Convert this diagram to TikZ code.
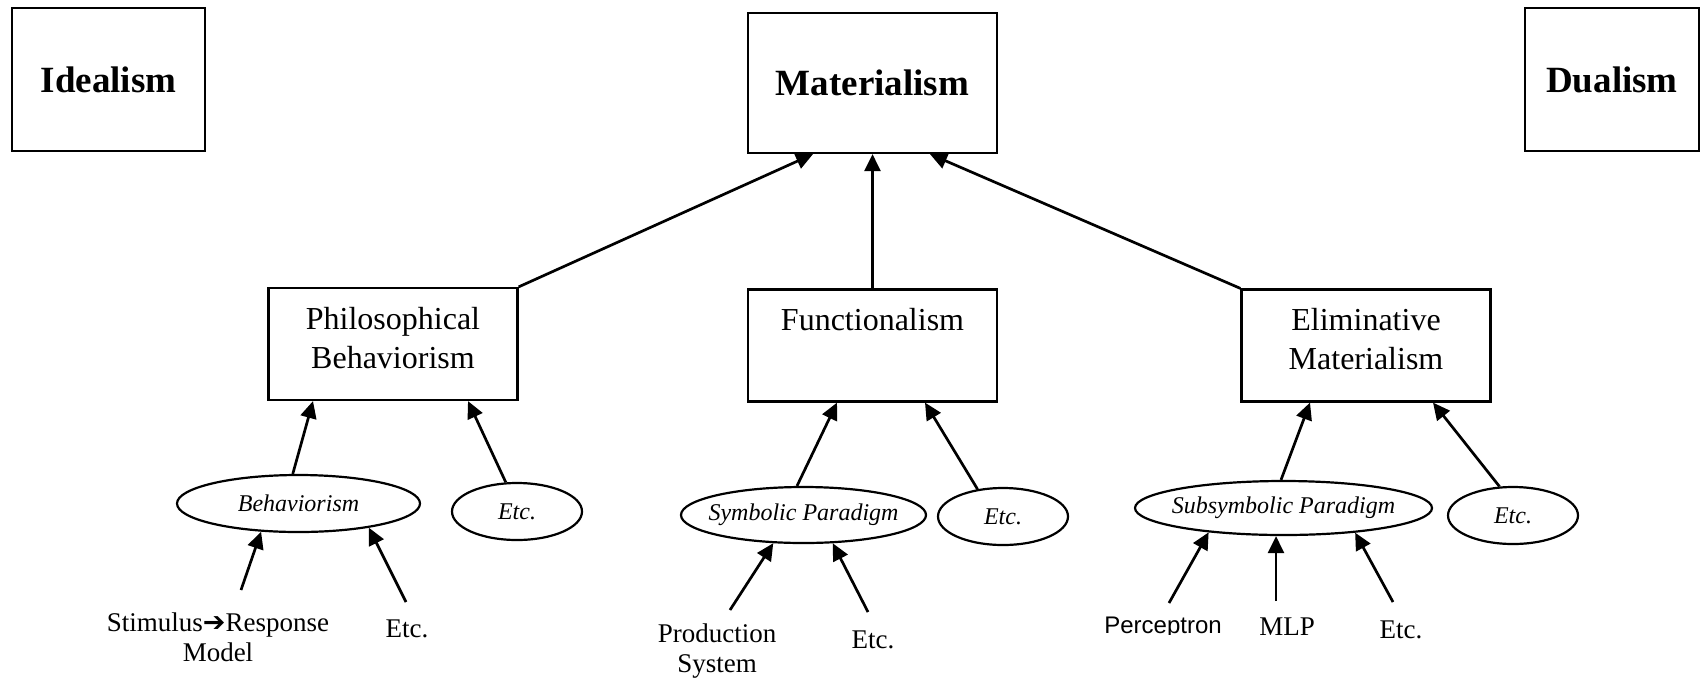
\documentclass[tikz,border=0pt]{standalone}
\usepackage{fontspec}
\setmainfont{Liberation Serif}
\newfontfamily\labelsans{Liberation Sans}
\newfontfamily\dingfont{DejaVu Sans}
\usetikzlibrary{arrows.meta,shapes.geometric,calc}

% text of the middle boxes sits near the top of a fixed-size frame
\newcommand{\boxtext}[1]{%
  \begin{minipage}[c][56pt][t]{124.5pt}\centering
    \fontsize{16}{19.5}\selectfont\vspace*{9.6pt}#1%
  \end{minipage}}

\begin{document}
\begin{tikzpicture}[x=0.5pt,y=-0.5pt,
  topbox/.style={draw,line width=1.1pt,inner sep=0pt,
    font=\fontsize{18.5}{22}\selectfont\bfseries},
  midbox/.style={draw,line width=1.1pt,inner sep=0pt,
    minimum width=124.5pt,minimum height=56pt},
  oval/.style={draw,ellipse,line width=1.1pt,inner xsep=-8pt,inner ysep=0pt,
    font=\fontsize{12}{14}\selectfont\itshape},
  leaf/.style={font=\fontsize{13.5}{15}\selectfont,align=center,
    anchor=base,inner sep=0pt},
  link/.style={line width=1.35pt,-{Triangle[length=8.5pt,width=8pt]}}
]
\useasboundingbox (0,0) rectangle (1701,681);

% top level
\node[topbox,minimum width=96.5pt,minimum height=71.5pt] (ide) at (108.5,79.5) {Idealism};
\node[topbox,minimum width=124.5pt,minimum height=70pt] (mat) at (872.5,83) {Materialism};
\node[topbox,minimum width=87pt,minimum height=71.5pt] (dua) at (1612,79.5) {Dualism};

% second level
\node[midbox] (pb) at (393,344) {\boxtext{Philosophical\\Behaviorism}};
\node[midbox] (fun) at (872.5,345.5) {\boxtext{Functionalism}};
\node[midbox] (em) at (1366,345.5) {\boxtext{Eliminative\\Materialism}};

% paradigms
\node[oval,minimum width=121.5pt,minimum height=28.5pt] (beh) at (298.5,503.5) {Behaviorism};
\node[oval,minimum width=65pt,minimum height=28.5pt] (etcA) at (517,511.5) {Etc.};
\node[oval,minimum width=122.5pt,minimum height=28pt] (sym) at (803.5,515) {Symbolic Paradigm};
\node[oval,minimum width=65pt,minimum height=28.5pt] (etcB) at (1003,516.5) {Etc.};
\node[oval,minimum width=148.5pt,minimum height=27pt] (sub) at (1283.5,508) {Subsymbolic Paradigm};
\node[oval,minimum width=65pt,minimum height=28.5pt] (etcC) at (1513,515.5) {Etc.};

% models (two-line labels are placed by their last baseline)
\node[leaf] (stim) at (218,661) {Stimulus{\dingfont ➔}Response\\Model};
\node[leaf] (beEtc) at (407,637) {Etc.};
\node[leaf] (prod) at (717,672) {Production\\System};
\node[leaf] (fuEtc) at (873,648) {Etc.};
\begin{scope}
  \clip (1080,590) rectangle (1250,634.5);
  \node[leaf,font=\labelsans\fontsize{12}{14}\selectfont] (perc) at (1163,633) {Perceptron};
\end{scope}
\node[leaf] (mlp) at (1287,635) {MLP};
\node[leaf] (emEtc) at (1401,638) {Etc.};

% free arrow tails above the model labels
\coordinate (tStim) at (241,590);
\coordinate (tBeEtc) at (406,602);
\coordinate (tProd) at (730,610);
\coordinate (tFuEtc) at (868,612);
\coordinate (tPerc) at (1169,603);
\coordinate (tMlp) at (1276,601);
\coordinate (tEmEtc) at (1393,602);

% into Materialism
\draw[link] (pb.north east) -- ($(mat.south)+(-59.5,0)$);
\draw[link] (fun.north) -- (mat.south);
\draw[link] (em.north west) -- ($(mat.south)+(57.5,0)$);

% into the second level
\draw[link] (beh.101) -- ($(pb.south)+(-80,0)$);
\draw[link] (etcA.111) -- ($(pb.south)+(75,0)$);
\draw[link] ($(sym.north)+(-6.5,0)$) -- ($(fun.south)+(-35.5,0)$);
\draw[link] (etcB.133.5) -- ($(fun.south)+(52.5,0)$);
\draw[link] ($(sub.north)+(-2.5,0)$) -- ($(em.south)+(-56,0)$);
\draw[link] (etcC.115) -- ($(em.south)+(67,0)$);

% into the paradigms
\draw[link] (tStim) -- (beh.217.5);
\draw[link] (tBeEtc) -- (beh.341.4);
\draw[link] (tProd) -- (sym.223.7);
\draw[link] (tFuEtc) -- (sym.316.3);
\draw[link] (tPerc) -- (sub.198.3);
\draw[link] (tMlp) -- ($(sub.south)+(-7.5,0)$);
\draw[link] (tEmEtc) -- (sub.341.1);
\end{tikzpicture}
\end{document}
